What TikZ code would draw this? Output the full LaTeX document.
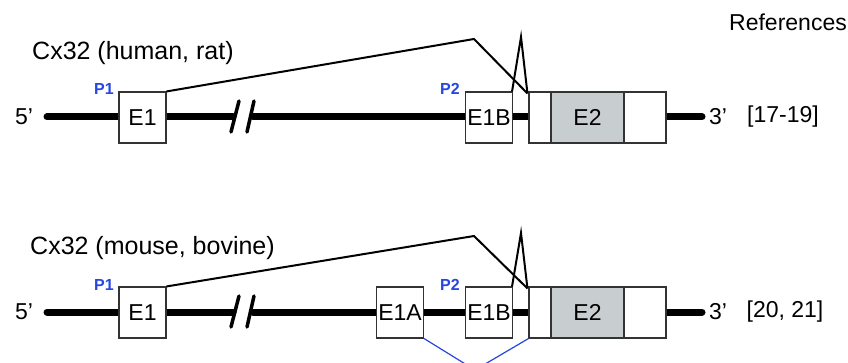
\documentclass[tikz,border=0pt]{standalone}
\usepackage{fontspec}
\setmainfont{Liberation Sans}
\usetikzlibrary{positioning}
\definecolor{pblue}{RGB}{40,70,225}
\definecolor{cdsgray}{RGB}{200,206,207}

\tikzset{
    dna/.style={line width=7pt, line cap=round},
    brk/.style={line width=3.5pt, line cap=round},
    exon/.style={draw=black!80, line width=1.1pt, fill=white, minimum width=47pt, minimum height=51pt, inner sep=0pt, font=\fontsize{23}{23}\selectfont},
    splice/.style={line width=2pt},
    prom/.style={text=pblue, font=\bfseries\fontsize{16}{16}\selectfont},
    lbl/.style={font=\fontsize{23}{23}\selectfont, inner sep=0pt},
    title/.style={font=\fontsize{25}{25}\selectfont, inner sep=0pt, anchor=west}
}

\begin{document}
\begin{tikzpicture}[x=1pt,y=-1pt]
    \clip (0,0) rectangle (848,363);
    \fill[white] (0,0) rectangle (848,363);

    \node[lbl] (refs) at (788,22) {References};

    % human, rat
    \node[title] (title1) at (32,53) {Cx32 (human, rat)};
    \node[lbl] (five1) at (24,117) {5'};
    \coordinate (start1) at (47,117);
    \coordinate (brkL1) at (233,117);
    \coordinate (brkR1) at (253,117);
    \coordinate (stop1) at (702,117);
    \draw[dna] (start1) -- (brkL1);
    \draw[dna] (brkR1) -- (stop1);
    \draw[brk] (239,101) -- (231,132);
    \draw[brk] (254,101) -- (247,132);
    \node[exon] (e1a) at (142.5,117.5) {E1};
    \node[exon] (e1ba) at (489,117.5) {E1B};
    \node[exon, minimum width=22pt] (utr5a) at (540,117.5) {};
    \node[exon, minimum width=73pt, fill=cdsgray, right=-1.1pt of utr5a] (cdsa) {E2};
    \node[exon, minimum width=42pt, right=-1.1pt of cdsa] (utr3a) {};
    \node[prom] (p1a) at (104,89) {P1};
    \node[prom] (p2a) at (450,89) {P2};
    \node[lbl] (three1) at (718,117) {3'};
    \node[lbl] (refa) at (783,117) {[17-19]};
    \coordinate (peak1) at (474,39);
    \coordinate (tip1) at (521,37);
    \draw[splice] (e1a.north east) -- (peak1) -- ([xshift=-1pt,yshift=-2pt]utr5a.north west);
    \draw[splice] ([xshift=-1pt]e1ba.north east) -- (tip1) -- ([xshift=-1pt,yshift=-2pt]utr5a.north west);

    % mouse, bovine
    \node[title] (title2) at (30,248) {Cx32 (mouse, bovine)};
    \node[lbl] (five2) at (24,312) {5'};
    \coordinate (start2) at (47,312);
    \coordinate (brkL2) at (233,312);
    \coordinate (brkR2) at (253,312);
    \coordinate (stop2) at (702,312);
    \draw[dna] (start2) -- (brkL2);
    \draw[dna] (brkR2) -- (stop2);
    \draw[brk] (239,296) -- (231,327);
    \draw[brk] (254,296) -- (247,327);
    \node[exon] (e1b) at (142.5,312.5) {E1};
    \node[exon] (e1ab) at (400,312.5) {E1A};
    \node[exon] (e1bb) at (489,312.5) {E1B};
    \node[exon, minimum width=22pt] (utr5b) at (540,312.5) {};
    \node[exon, minimum width=73pt, fill=cdsgray, right=-1.1pt of utr5b] (cdsb) {E2};
    \node[exon, minimum width=42pt, right=-1.1pt of cdsb] (utr3b) {};
    \node[prom] (p1b) at (104,285) {P1};
    \node[prom] (p2b) at (450,285) {P2};
    \node[lbl] (three2) at (718,312) {3'};
    \node[lbl] (refb) at (785,312) {[20, 21]};
    \coordinate (peak2) at (474,236);
    \coordinate (tip2) at (521,233);
    \coordinate (dip2) at (475,370);
    \draw[splice] (e1b.north east) -- (peak2) -- ([xshift=-1pt,yshift=-2pt]utr5b.north west);
    \draw[splice] ([xshift=-1pt]e1bb.north east) -- (tip2) -- ([xshift=-1pt,yshift=-2pt]utr5b.north west);
    \draw[pblue, line width=1.2pt] (e1ab.south east) -- (dip2) -- (utr5b.south west);
\end{tikzpicture}
\end{document}
